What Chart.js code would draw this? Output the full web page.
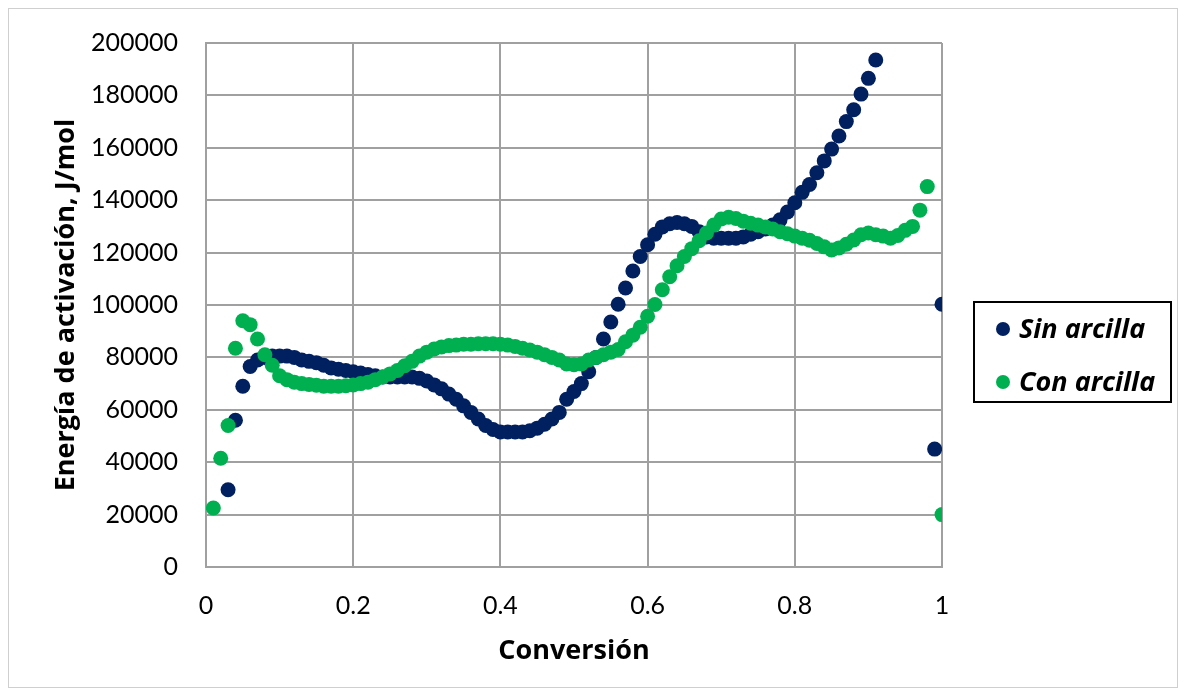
<!DOCTYPE html>
<html lang="es">
<head>
<meta charset="utf-8">
<title>Energía de activación vs conversión</title>
<script src="https://cdn.jsdelivr.net/npm/chart.js@4.4.1/dist/chart.umd.min.js"></script>
<style>
  html, body { margin: 0; padding: 0; background: #ffffff; }
  #wrap { width: 1186px; height: 696px; }
  canvas { display: block; }
</style>
</head>
<body>
<div id="wrap"><canvas id="chart" width="1186" height="696"></canvas></div>
<script>
// Conversion (x) and activation energy in J/mol (y) for each sample
const sinArcillaX = [
  0.03, 0.04, 0.05, 0.06, 0.07, 0.08, 0.09, 0.10, 0.11, 0.12,
  0.13, 0.14, 0.15, 0.16, 0.17, 0.18, 0.19, 0.20, 0.21, 0.22,
  0.23, 0.24, 0.25, 0.26, 0.27, 0.28, 0.29, 0.30, 0.31, 0.32,
  0.33, 0.34, 0.35, 0.36, 0.37, 0.38, 0.39, 0.40, 0.41, 0.42,
  0.43, 0.44, 0.45, 0.46, 0.47, 0.48, 0.49, 0.50, 0.51, 0.52,
  0.53, 0.54, 0.55, 0.56, 0.57, 0.58, 0.59, 0.60, 0.61, 0.62,
  0.63, 0.64, 0.65, 0.66, 0.67, 0.68, 0.69, 0.70, 0.71, 0.72,
  0.73, 0.74, 0.75, 0.76, 0.77, 0.78, 0.79, 0.80, 0.81, 0.82,
  0.83, 0.84, 0.85, 0.86, 0.87, 0.88, 0.89, 0.90, 0.91,
  0.99, 1.00
];
const sinArcillaY = [
  29500, 56000, 69000, 76500, 79000, 80000, 80500, 80500, 80500, 80000,
  79000, 78500, 78000, 77000, 76000, 75500, 75000, 74500, 74000, 73500,
  73000, 72500, 72500, 72500, 72500, 72500, 72000, 71000, 69500, 68000,
  66000, 64000, 61500, 59000, 56500, 54000, 52500, 51500, 51500, 51500,
  51500, 52000, 53000, 54500, 56500, 59000, 64000, 67000, 70000, 74500,
  80000, 87000, 93500, 100300, 106500, 113000, 118500, 123000, 127000, 129800,
  131000, 131500, 131000, 130000, 128000, 126000, 125500, 125500, 125500, 125500,
  126000, 127000, 128000, 129000, 130500, 132500, 135500, 139000, 143000, 146000,
  150500, 155000, 159500, 164500, 170000, 174500, 180500, 186500, 193500,
  45000, 100300
];
const conArcillaX = [
  0.01, 0.02, 0.03, 0.04, 0.05, 0.06, 0.07, 0.08, 0.09, 0.10,
  0.11, 0.12, 0.13, 0.14, 0.15, 0.16, 0.17, 0.18, 0.19, 0.20,
  0.21, 0.22, 0.23, 0.24, 0.25, 0.26, 0.27, 0.28, 0.29, 0.30,
  0.31, 0.32, 0.33, 0.34, 0.35, 0.36, 0.37, 0.38, 0.39, 0.40,
  0.41, 0.42, 0.43, 0.44, 0.45, 0.46, 0.47, 0.48, 0.49, 0.50,
  0.51, 0.52, 0.53, 0.54, 0.55, 0.56, 0.57, 0.58, 0.59, 0.60,
  0.61, 0.62, 0.63, 0.64, 0.65, 0.66, 0.67, 0.68, 0.69, 0.70,
  0.71, 0.72, 0.73, 0.74, 0.75, 0.76, 0.77, 0.78, 0.79, 0.80,
  0.81, 0.82, 0.83, 0.84, 0.85, 0.86, 0.87, 0.88, 0.89, 0.90,
  0.91, 0.92, 0.93, 0.94, 0.95, 0.96, 0.97, 0.98,
  1.00
];
const conArcillaY = [
  22500, 41500, 54000, 83500, 94000, 92500, 87000, 81000, 77000, 73000,
  71500, 70500, 70000, 69700, 69400, 69000, 69000, 69000, 69200, 69500,
  70000, 70500, 71500, 72500, 73700, 75000, 76800, 78500, 80500, 82000,
  83200, 84000, 84500, 84700, 85000, 85000, 85200, 85200, 85200, 85000,
  84700, 84200, 83500, 82800, 82000, 81000, 80000, 79000, 77500, 77200,
  77500, 79000, 80000, 81000, 82000, 83000, 86000, 88500, 91500, 95700,
  100200, 105800, 110800, 115000, 118500, 121500, 124500, 127500, 130500, 132800,
  133500, 133000, 132000, 131200, 130500, 129800, 129000, 128000, 127200, 126300,
  125500, 124700, 123500, 122200, 121000, 121800, 123200, 124800, 126800, 127500,
  126800, 126300, 125500, 126500, 128500, 130000, 136200, 145200,
  20000
];
const seriesNames = ['Sin arcilla', 'Con arcilla'];
const xTicks = [0, 0.2, 0.4, 0.6, 0.8, 1];
const yTicks = [0, 20000, 40000, 60000, 80000, 100000, 120000, 140000, 160000, 180000, 200000];

const NAVY = '#002060';
const GREEN = '#00B050';
const GRID = '#a0a0a0';
const TICK_FONT = 'Lato, "Open Sans", "DejaVu Sans", sans-serif';
const TITLE_FONT = '"Open Sans", Lato, "DejaVu Sans", sans-serif';

function pairs(xs, ys) {
  return xs.map((x, i) => ({ x: x, y: ys[i] }));
}

// Outer frame around the whole figure
const frame = {
  id: 'frame',
  beforeDraw(chart) {
    const ctx = chart.ctx;
    ctx.save();
    ctx.fillStyle = '#ffffff';
    ctx.fillRect(0, 0, chart.width, chart.height);
    ctx.strokeStyle = '#cfcfcf';
    ctx.lineWidth = 1;
    ctx.strokeRect(8.5, 8.5, chart.width - 17, chart.height - 17);
    ctx.restore();
  }
};

// Boxed legend on the right, built from the dataset labels and colours
const boxedLegend = {
  id: 'boxedLegend',
  afterDraw(chart) {
    const ctx = chart.ctx;
    const box = { left: 974, top: 302, width: 197, height: 100 };
    ctx.save();
    ctx.strokeStyle = '#000000';
    ctx.lineWidth = 2;
    ctx.strokeRect(box.left, box.top, box.width, box.height);
    chart.data.datasets.forEach((ds, i) => {
      const cy = box.top + 27 + i * 53;
      ctx.fillStyle = ds.backgroundColor;
      ctx.beginPath();
      ctx.arc(box.left + 29, cy, 7, 0, Math.PI * 2);
      ctx.fill();
      ctx.fillStyle = '#000000';
      ctx.font = 'italic bold 27px ' + TITLE_FONT;
      ctx.textBaseline = 'middle';
      ctx.textAlign = 'left';
      ctx.fillText(ds.label, box.left + 45, cy + 1);
    });
    ctx.restore();
  }
};

function build() {
  new Chart(document.getElementById('chart'), {
    type: 'scatter',
    data: {
      datasets: [
        {
          label: seriesNames[0],
          data: pairs(sinArcillaX, sinArcillaY),
          backgroundColor: NAVY,
          borderColor: NAVY,
          pointRadius: 7.5,
          pointBorderWidth: 0,
          pointHoverRadius: 7.5,
          order: 1
        },
        {
          label: seriesNames[1],
          data: pairs(conArcillaX, conArcillaY),
          backgroundColor: GREEN,
          borderColor: GREEN,
          pointRadius: 7.5,
          pointBorderWidth: 0,
          pointHoverRadius: 7.5,
          order: 0
        }
      ]
    },
    options: {
      responsive: false,
      animation: false,
      events: [],
      layout: { padding: { left: 46, right: 244, top: 36, bottom: 24 } },
      plugins: {
        legend: { display: false },
        tooltip: { enabled: false }
      },
      scales: {
        x: {
          type: 'linear',
          min: 0,
          max: 1,
          afterBuildTicks(scale) { scale.ticks = xTicks.map(v => ({ value: v })); },
          afterFit(scale) { scale.height = 105; },
          ticks: {
            padding: 24,
            color: '#000000',
            font: { family: TICK_FONT, size: 25 },
            callback: v => String(v)
          },
          grid: { color: GRID, lineWidth: 2, drawTicks: false },
          border: { color: GRID, width: 2 },
          title: {
            display: true,
            text: 'Conversión',
            color: '#000000',
            font: { family: TITLE_FONT, size: 27, weight: 'bold' },
            padding: { top: 4, bottom: 4 }
          }
        },
        y: {
          type: 'linear',
          min: 0,
          max: 200000,
          afterBuildTicks(scale) { scale.ticks = yTicks.map(v => ({ value: v })); },
          afterFit(scale) { scale.width = 160; },
          ticks: {
            padding: 28,
            color: '#000000',
            font: { family: TICK_FONT, size: 25 },
            callback: v => String(v)
          },
          grid: { color: GRID, lineWidth: 2, drawTicks: false },
          border: { color: GRID, width: 2 },
          title: {
            display: true,
            text: 'Energía de activación, J/mol',
            color: '#000000',
            font: { family: TITLE_FONT, size: 27, weight: 'bold' },
            padding: { top: 4, bottom: 4 }
          }
        }
      }
    },
    plugins: [frame, boxedLegend]
  });
}

const fontLoads = [
  '25px Lato', 'bold 27px "Open Sans"', 'italic bold 27px "Open Sans"'
].map(f => document.fonts.load(f).catch(() => null));
Promise.all(fontLoads).then(build, build);
</script>
</body>
</html>
